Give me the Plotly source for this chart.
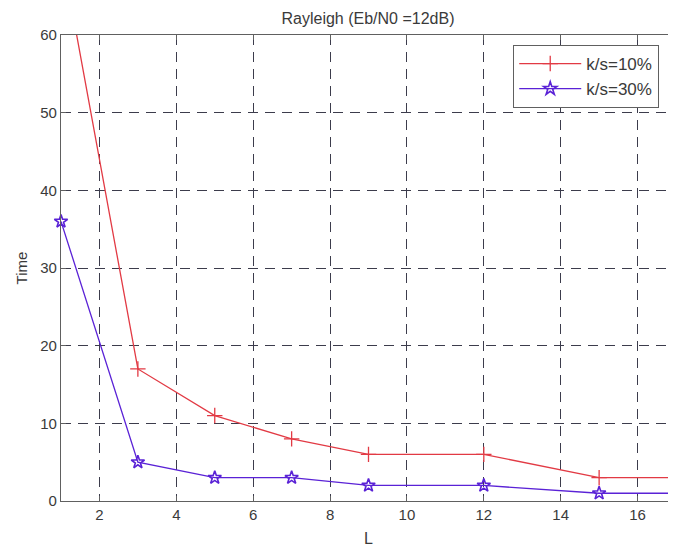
import plotly.graph_objects as go

L_vals = [1, 3, 5, 7, 9, 12, 15, 17]
time_10 = [71, 17, 11, 8, 6, 6, 3, 3]
time_30 = [36, 5, 3, 3, 2, 2, 1, 1]
x_ticks = [2, 4, 6, 8, 10, 12, 14, 16]
y_ticks = [0, 10, 20, 30, 40, 50, 60]

RED = "#e23a44"
BLUE = "#5a22d6"
TXT = "#3a3a3a"
AX = "#606060"
FONT = "Liberation Sans"

fig = go.Figure()
fig.add_trace(go.Scatter(
    x=L_vals, y=time_10, name="k/s=10%", mode="lines+markers",
    line=dict(color=RED, width=1.3),
    marker=dict(symbol="cross-thin", size=11, line=dict(color=RED, width=1.3), color=RED),
    cliponaxis=True,
))
fig.add_trace(go.Scatter(
    x=L_vals, y=time_30, name="k/s=30%", mode="lines+markers",
    line=dict(color=BLUE, width=1.3),
    marker=dict(symbol="star-open", size=10, line=dict(color=BLUE, width=1.6), color=BLUE),
    cliponaxis=False,
))

axis_common = dict(
    showline=True, linecolor=AX, linewidth=1.2, mirror="ticks",
    ticks="inside", ticklen=5, tickcolor=AX,
    showgrid=True, gridcolor="#3c3c4c", gridwidth=1, griddash="10px,7px",
    zeroline=False,
    tickfont=dict(family=FONT, size=15, color=TXT),
)

fig.update_layout(
    width=668, height=542,
    paper_bgcolor="white", plot_bgcolor="white",
    margin=dict(l=53, r=0, t=27, b=49),
    title=dict(text="Rayleigh (Eb/N0 =12dB)", x=360 / 668, xanchor="center",
               y=1 - 10 / 542, yanchor="middle",
               font=dict(family=FONT, size=16, color=TXT)),
    xaxis=dict(range=[1, 17], tickvals=x_ticks,
               title=dict(text="L", standoff=10, font=dict(family=FONT, size=16, color=TXT)),
               **axis_common),
    yaxis=dict(range=[0, 60], tickvals=y_ticks,
               title=dict(text="Time", standoff=8, font=dict(family=FONT, size=15, color=TXT)),
               **axis_common),
    legend=dict(x=0.735, y=0.979, xanchor="left", yanchor="top",
                bgcolor="white", bordercolor=AX, borderwidth=1.2,
                font=dict(family=FONT, size=17, color=TXT),
                itemwidth=62),
    showlegend=True,
)

fig.write_html("out.html")
